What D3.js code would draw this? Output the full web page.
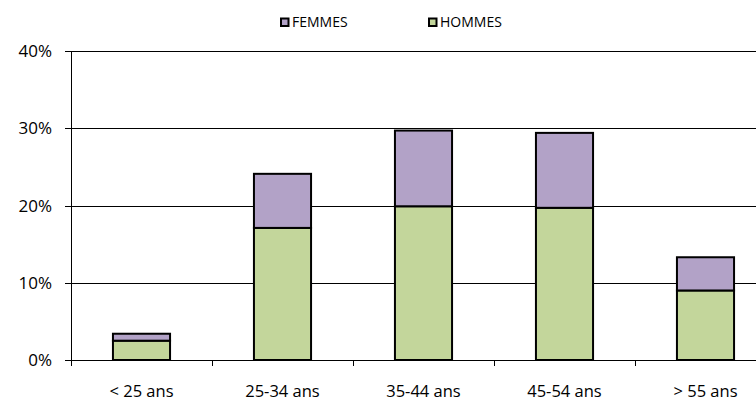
<!DOCTYPE html>
<html><head><meta charset="utf-8">
<script src="https://cdn.jsdelivr.net/npm/d3@7"></script>
<style>body{margin:0;background:#fff}svg{display:block}text{font-family:"Open Sans","Noto Sans",sans-serif}</style>
</head><body><svg id="c" width="756" height="403"></svg>
<script>
const categories = ["< 25 ans","25-34 ans","35-44 ans","45-54 ans","> 55 ans"];
const hommes = [2.5, 17.1, 19.9, 19.7, 9.0];
const femmes = [0.9, 7.0, 9.8, 9.7, 4.3];
const yTicks = [0, 10, 20, 30, 40];
const seriesNames = ["FEMMES","HOMMES"];
const colors = {FEMMES:"#B2A2C7", HOMMES:"#C3D69B"};

const svg = d3.select("#c");
const mLeft = 71, mTop = 51, mBottom = 360, step = 141;
const x = d3.scaleBand().domain(categories).range([mLeft, mLeft + step*categories.length]).paddingInner(0.595).paddingOuter(0.2975);
const y = d3.scaleLinear().domain([0, 40]).range([mBottom, mTop]);

// gridlines
svg.append("g").selectAll("line").data(yTicks).join("line")
  .attr("x1", mLeft - 6).attr("x2", 756).attr("y1", d => Math.round(y(d))+0.5).attr("y2", d => Math.round(y(d))+0.5)
  .attr("stroke", "#000").attr("stroke-width", 1);

// y labels
svg.append("g").selectAll("text").data(yTicks).join("text")
  .attr("x", 52).attr("y", d => y(d)).attr("dy", "0.36em").attr("text-anchor", "end")
  .attr("font-size", 17).attr("fill", "#000").text(d => d + "%");

// y axis line
svg.append("line").attr("x1", mLeft+0.5).attr("x2", mLeft+0.5).attr("y1", mTop).attr("y2", mBottom+6).attr("stroke","#000");

// x ticks at category boundaries
const bounds = d3.range(categories.length+1).map(i => mLeft + i*step);
svg.append("g").selectAll("line").data(bounds.slice(1)).join("line")
  .attr("x1", d => d+0.5).attr("x2", d => d+0.5).attr("y1", mBottom).attr("y2", mBottom+6).attr("stroke","#000");

// bars
const data = categories.map((c,i) => ({c, h: hommes[i], f: femmes[i]}));
const g = svg.append("g");
g.selectAll("rect.h").data(data).join("rect").attr("class","h")
  .attr("x", d => x(d.c)).attr("width", x.bandwidth())
  .attr("y", d => y(d.h)).attr("height", d => y(0) - y(d.h))
  .attr("fill", colors.HOMMES).attr("stroke","#000").attr("stroke-width",2);
g.selectAll("rect.f").data(data).join("rect").attr("class","f")
  .attr("x", d => x(d.c)).attr("width", x.bandwidth())
  .attr("y", d => y(d.h + d.f)).attr("height", d => y(d.h) - y(d.h + d.f))
  .attr("fill", colors.FEMMES).attr("stroke","#000").attr("stroke-width",2);

// x labels
svg.append("g").selectAll("text").data(categories).join("text")
  .attr("x", d => x(d) + x.bandwidth()/2).attr("y", 397).attr("text-anchor","middle")
  .attr("font-size", 16.5).attr("fill","#000").text(d => d);

// legend
const lx = [280, 428];
const lg = svg.append("g").selectAll("g").data(seriesNames).join("g")
  .attr("transform", (d,i) => `translate(${lx[i]},17.5)`);
lg.append("rect").attr("x",1).attr("y",1).attr("width",7.5).attr("height",7.5)
  .attr("fill", d => colors[d]).attr("stroke","#000").attr("stroke-width",2);
lg.append("text").attr("x", 12).attr("y", 9.5).attr("font-size", 14).attr("fill","#000").text(d => d);
</script></body></html>
